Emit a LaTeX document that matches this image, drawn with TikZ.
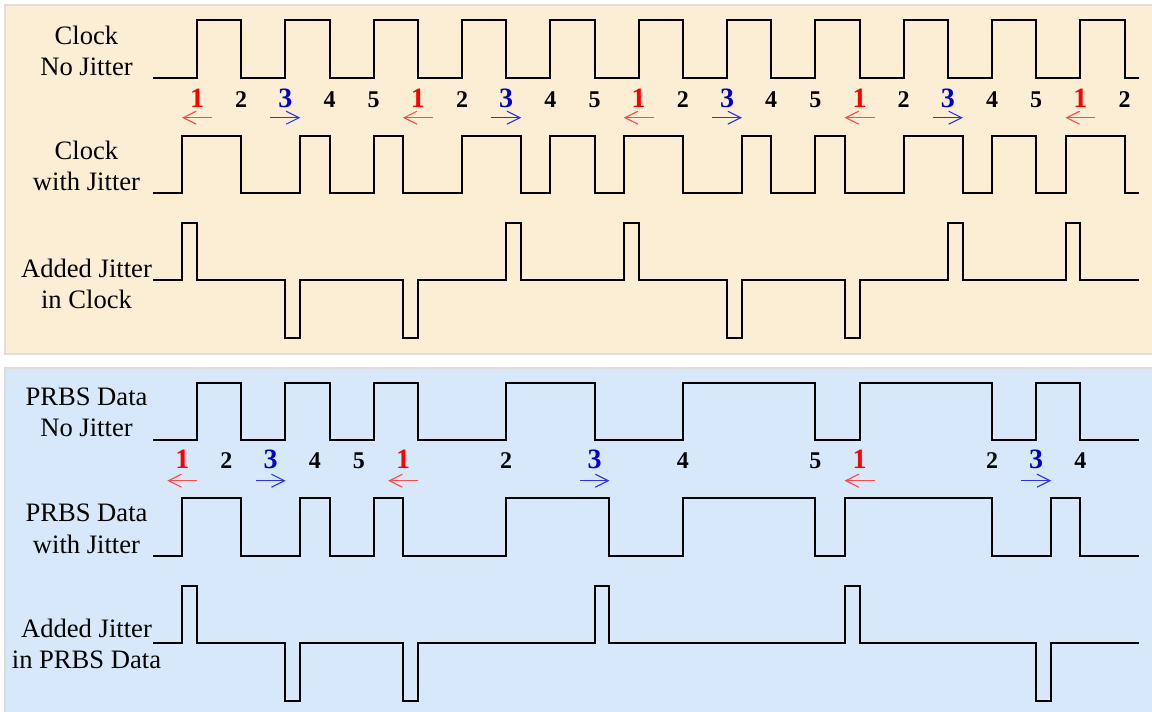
\documentclass[tikz,border=0pt]{standalone}
\usepackage{fontspec}
\setmainfont{Liberation Serif}
\usetikzlibrary{arrows.meta}
\definecolor{beigefill}{HTML}{FCEED4}
\definecolor{bluefill}{HTML}{D6E8FA}
\definecolor{frameline}{HTML}{DEDEDE}
\definecolor{lagred}{HTML}{FF4A4A}
\definecolor{leadblue}{HTML}{3030E8}
\definecolor{digred}{HTML}{FF0000}
\definecolor{digblue}{HTML}{0000C8}

\begin{document}
\begin{tikzpicture}[
  x=0.5pt, y=-0.5pt,
  panel/.style={draw=frameline, line width=1pt},
  wave/.style={draw=black, line width=1pt, line join=miter},
  siglabel/.style={align=center, inner sep=0pt, font=\fontsize{13.3}{15.75}\selectfont},
  digit/.style={anchor=base, inner sep=0pt, font=\bfseries\fontsize{12}{14}\selectfont},
  dig1/.style={digit, text=digred, font=\bfseries\fontsize{14}{16}\selectfont},
  dig2/.style={digit},
  dig3/.style={digit, text=digblue, font=\bfseries\fontsize{14}{16}\selectfont},
  dig4/.style={digit},
  dig5/.style={digit},
  lagarrow/.style={draw=lagred, line width=0.55pt, -{Straight Barb[length=6.5pt,width=6.5pt]}},
  leadarrow/.style={draw=leadblue, line width=0.55pt, -{Straight Barb[length=6.5pt,width=6.5pt]}},
]

% ---- timing grid ----
\def\xO{197}     % first clock edge
\def\tH{44.17}   % half period
\def\jt{0.333}   % jitter, in half periods
\def\xBeg{153}
\def\xEnd{1138.7}

\fill[white] (0,0) rectangle (1152,712);
\useasboundingbox (0,0) rectangle (1152,712);

% ---- panels ----
\draw[panel, fill=beigefill] (5,5) rectangle (1162,353.5);
\draw[panel, fill=bluefill] (5,367.5) rectangle (1162,722);

% ---- signal names ----
\node[siglabel] (lclk)   at (86.5,51)  {Clock\\No Jitter};
\node[siglabel] (lclkj)  at (86.5,166) {Clock\\with Jitter};
\node[siglabel] (laddc)  at (86.5,284) {Added Jitter\\in Clock};
\node[siglabel] (lprbs)  at (86.5,412.5) {PRBS Data\\No Jitter};
\node[siglabel] (lprbsj) at (86.5,529) {PRBS Data\\with Jitter};
\node[siglabel] (laddp)  at (86.5,644) {Added Jitter\\in PRBS Data};

% ---- clock, no jitter ----
\draw[wave] (\xBeg,78) \foreach \e [count=\i] in {0,...,21}{
  -- ({\xO+\tH*(\e)},{ifthenelse(isodd(\i),78,20)})
  -- ({\xO+\tH*(\e)},{ifthenelse(isodd(\i),20,78)})
} -- (\xEnd,78);

% edge numbers
\foreach \k in {0,...,21}{
  \pgfmathtruncatemacro\d{mod(\k,5)+1}
  \node[dig\d] (t\k) at ({\xO+\tH*\k},107) {\d};
  \ifnum\d=1 \draw[lagarrow] ({\xO+\tH*\k+15},117.7) -- ++(-30,0); \fi
  \ifnum\d=3 \draw[leadarrow] ({\xO+\tH*\k-15},117.7) -- ++(30,0); \fi
}

% ---- clock with jitter ----
\draw[wave] (\xBeg,193.3) \foreach \e [count=\i] in
  {0-\jt,1,2+\jt,3,4,5-\jt,6,7+\jt,8,9,10-\jt,11,12+\jt,13,14,15-\jt,16,17+\jt,18,19,20-\jt,21}{
  -- ({\xO+\tH*(\e)},{ifthenelse(isodd(\i),193.3,136)})
  -- ({\xO+\tH*(\e)},{ifthenelse(isodd(\i),136,193.3)})
} -- (\xEnd,193.3);

% ---- added jitter in clock ----
\draw[wave] (\xBeg,280) \foreach \e/\s in
  {0-\jt/1, 2/-1, 5-\jt/-1, 7/1, 10-\jt/1, 12/-1, 15-\jt/-1, 17/1, 20-\jt/1}{
  -- ({\xO+\tH*(\e)},280) -- ({\xO+\tH*(\e)},{280-57.5*(\s)})
  -- ({\xO+\tH*(\e+\jt)},{280-57.5*(\s)}) -- ({\xO+\tH*(\e+\jt)},280)
} -- (\xEnd,280);

% ---- PRBS data, no jitter ----
\draw[wave] (\xBeg,440) \foreach \e [count=\i] in {0,1,2,3,4,5,7,9,11,14,15,18,19,20}{
  -- ({\xO+\tH*(\e)},{ifthenelse(isodd(\i),440,382.7)})
  -- ({\xO+\tH*(\e)},{ifthenelse(isodd(\i),382.7,440)})
} -- (\xEnd,440);

% edge numbers
\foreach \e/\d [count=\i] in
  {0-\jt/1, 1-\jt/2, 2-\jt/3, 3-\jt/4, 4-\jt/5, 5-\jt/1, 7/2, 9/3, 11/4, 14/5, 15/1, 18/2, 19/3, 20/4}{
  \node[dig\d] (b\i) at ({\xO+\tH*(\e)},468.5) {\d};
  \ifnum\d=1 \draw[lagarrow] ({\xO+\tH*(\e)+15},480.7) -- ++(-30,0); \fi
  \ifnum\d=3 \draw[leadarrow] ({\xO+\tH*(\e)-15},480.7) -- ++(30,0); \fi
}

% ---- PRBS data with jitter ----
\draw[wave] (\xBeg,556) \foreach \e [count=\i] in
  {0-\jt,1,2+\jt,3,4,5-\jt,7,9+\jt,11,14,15-\jt,18,19+\jt,20}{
  -- ({\xO+\tH*(\e)},{ifthenelse(isodd(\i),556,497.7)})
  -- ({\xO+\tH*(\e)},{ifthenelse(isodd(\i),497.7,556)})
} -- (\xEnd,556);

% ---- added jitter in PRBS data ----
\draw[wave] (\xBeg,643.3) \foreach \e/\s in
  {0-\jt/1, 2/-1, 5-\jt/-1, 9/1, 15-\jt/1, 19/-1}{
  -- ({\xO+\tH*(\e)},643.3) -- ({\xO+\tH*(\e)},{643.3-57.5*(\s)})
  -- ({\xO+\tH*(\e+\jt)},{643.3-57.5*(\s)}) -- ({\xO+\tH*(\e+\jt)},643.3)
} -- (\xEnd,643.3);

\end{tikzpicture}
\end{document}
